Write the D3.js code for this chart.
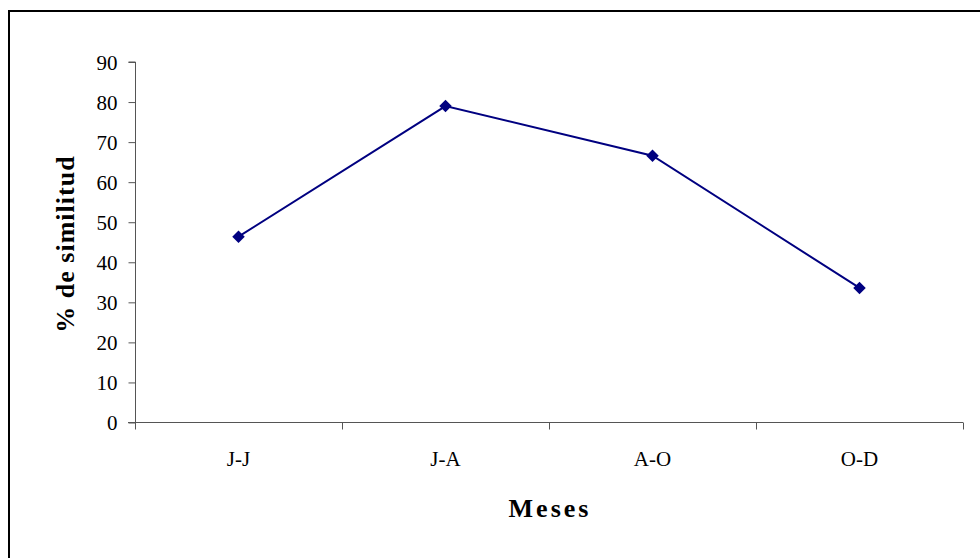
<!DOCTYPE html>
<html>
<head>
<meta charset="utf-8">
<script src="https://cdn.jsdelivr.net/npm/d3@7"></script>
<style>
  body { margin: 0; background: #fff; }
  svg { display: block; }
  text { font-family: "Liberation Serif", "Times New Roman", serif; fill: #000; }
</style>
</head>
<body>
<div id="vis"></div>
<script>
var width = 980,
	height = 558;

// data
var months = ["J-J", "J-A", "A-O", "O-D"];
var similitud = [46.4, 79.0, 66.6, 33.6];
var yTicks = [0, 10, 20, 30, 40, 50, 60, 70, 80, 90];

var margin = {top: 62, left: 135, right: 17, bottom: 135};

var svg = d3.select('#vis')
		.append('svg')
		.attr('width', width)
		.attr('height', height);

// outer frame (right / bottom edges fall outside the picture)
svg.append('rect')
	.attr('x', 9)
	.attr('y', 11)
	.attr('width', 1000)
	.attr('height', 600)
	.style('fill', 'none')
	.style('stroke', '#000')
	.style('stroke-width', 2);

var x = d3.scaleBand()
		.domain(months)
		.range([margin.left, width - margin.right])
		.padding(0),

	y = d3.scaleLinear()
		.domain([0, 90])
		.range([height - margin.bottom - 0.5, margin.top]);

// y axis
var yAxis = svg.append('g')
	.attr('transform', 'translate(' + (margin.left + 0.5) + ',0)')
	.call(d3.axisLeft(y).tickValues(yTicks).tickSize(7).tickPadding(11));

yAxis.select('.domain').style('stroke', '#555').attr('d', 'M-7,' + y(90) + 'H0V' + y(0));
yAxis.selectAll('.tick line').style('stroke', '#555');
yAxis.selectAll('.tick text')
	.style('font-size', '21px')
	.attr('dy', '0.34em');

// x axis
var xAxis = svg.append('g')
	.attr('transform', 'translate(0,' + y(0) + ')')
	.call(d3.axisBottom(x).tickSize(0).tickPadding(29));

xAxis.select('.domain').style('stroke', '#555').attr('d', 'M' + (margin.left - 7) + ',0H' + (width - margin.right));
xAxis.selectAll('.tick text').style('font-size', '21px');

// category separators on x axis
xAxis.selectAll('.sep')
	.data(months)
	.enter()
	.append('line')
	.attr('class', 'sep')
	.attr('x1', function(d) { return x(d) + x.bandwidth() + 0.5; })
	.attr('x2', function(d) { return x(d) + x.bandwidth() + 0.5; })
	.attr('y1', 0)
	.attr('y2', 7)
	.style('stroke', '#555');

xAxis.append('line')
	.attr('x1', margin.left + 0.5)
	.attr('x2', margin.left + 0.5)
	.attr('y1', 0)
	.attr('y2', 7)
	.style('stroke', '#555');

// axis titles
svg.append('text')
	.attr('x', 550)
	.attr('y', 517)
	.attr('text-anchor', 'middle')
	.style('font-size', '26px')
	.style('font-weight', 'bold')
	.style('letter-spacing', '3px')
	.text('Meses');

svg.append('text')
	.attr('transform', 'translate(74,' + 244 + ') rotate(-90)')
	.attr('text-anchor', 'middle')
	.style('font-size', '26px')
	.style('font-weight', 'bold')
	.style('letter-spacing', '1px')
	.text('% de similitud');

// line + markers
var line = d3.line()
	.x(function(d, i) { return x(months[i]) + x.bandwidth() / 2; })
	.y(function(d) { return y(d); });

svg.append('path')
	.datum(similitud)
	.attr('d', line)
	.style('fill', 'none')
	.style('stroke', '#000080')
	.style('stroke-width', 2);

svg.selectAll('.pt')
	.data(similitud)
	.enter()
	.append('path')
	.attr('class', 'pt')
	.attr('d', d3.symbol().type(d3.symbolDiamond2).size(100))
	.attr('transform', function(d, i) {
		return 'translate(' + (x(months[i]) + x.bandwidth() / 2) + ',' + y(d) + ')';
	})
	.style('fill', '#000080');
</script>
</body>
</html>
